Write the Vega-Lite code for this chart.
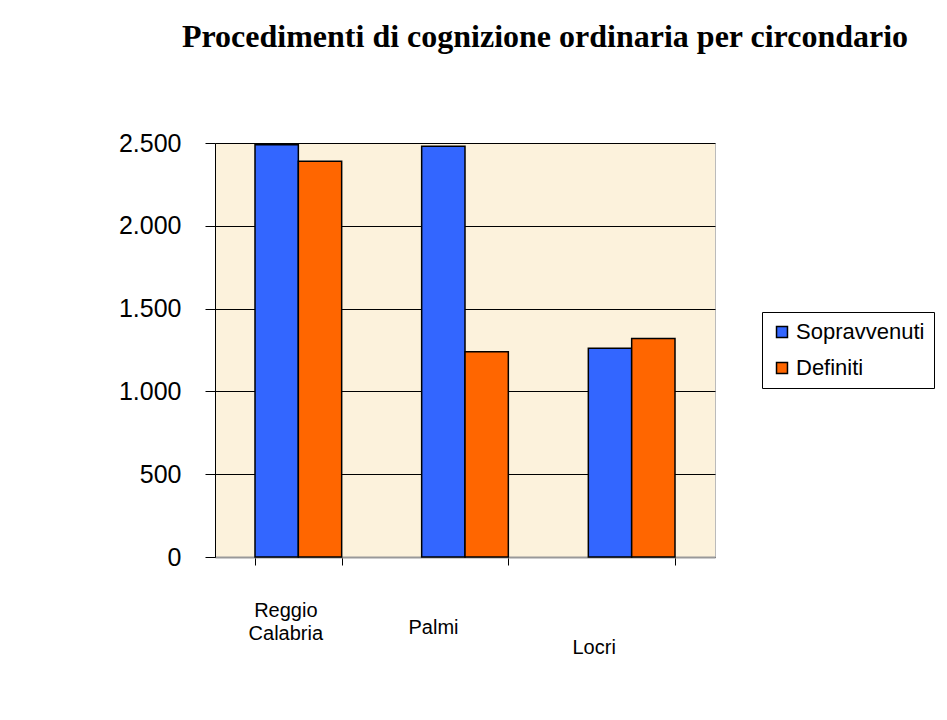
{
  "$schema": "https://vega.github.io/schema/vega-lite/v6.json",
  "width": 500,
  "height": 414,
  "autosize": {"type": "none"},
  "padding": {"left": 215, "top": 143, "right": 232, "bottom": 163},
  "background": "white",
  "title": {
    "text": "Procedimenti di cognizione ordinaria per circondario",
    "font": "Liberation Serif",
    "fontSize": 32,
    "fontWeight": "bold",
    "color": "black",
    "anchor": "middle",
    "dx": 80,
    "offset": 77
  },
  "data": {
    "values": [
      {"Circondario": "Reggio Calabria", "Serie": "Sopravvenuti", "Valore": 2490},
      {"Circondario": "Reggio Calabria", "Serie": "Definiti", "Valore": 2390},
      {"Circondario": "Palmi", "Serie": "Sopravvenuti", "Valore": 2480},
      {"Circondario": "Palmi", "Serie": "Definiti", "Valore": 1240},
      {"Circondario": "Locri", "Serie": "Sopravvenuti", "Valore": 1260},
      {"Circondario": "Locri", "Serie": "Definiti", "Valore": 1320}
    ]
  },
  "mark": {"type": "bar", "stroke": "black", "strokeWidth": 1.5},
  "encoding": {
    "x": {
      "field": "Circondario",
      "type": "nominal",
      "sort": ["Reggio Calabria", "Palmi", "Locri"],
      "scale": {"paddingInner": 0.48, "paddingOuter": 0.24},
      "axis": {
        "title": null,
        "labelAngle": 0,
        "labelFont": "Liberation Sans",
        "labelFontSize": 20,
        "labelColor": "black",
        "labelPadding": {"condition": [
          {"test": "datum.value == 'Palmi'", "value": 52},
          {"test": "datum.value == 'Locri'", "value": 72}
        ], "value": 35},
        "labelOffset": {"condition": [
          {"test": "datum.value == 'Palmi'", "value": -32},
          {"test": "datum.value == 'Locri'", "value": -38}
        ], "value": -13},
        "labelLineHeight": 23,
        "labelExpr": "datum.label == 'Reggio Calabria' ? ['Reggio', 'Calabria'] : datum.label",
        "domainColor": "#999999",
        "domainWidth": 2,
        "tickColor": "black",
        "tickBand": "extent",
        "tickSize": 8,
        "grid": false
      }
    },
    "xOffset": {
      "field": "Serie",
      "type": "nominal",
      "sort": ["Sopravvenuti", "Definiti"]
    },
    "y": {
      "field": "Valore",
      "type": "quantitative",
      "scale": {"domain": [0, 2500]},
      "axis": {
        "title": null,
        "values": [0, 500, 1000, 1500, 2000, 2500],
        "labelExpr": "replace(format(datum.value, ','), ',', '.')",
        "labelFont": "Liberation Sans",
        "labelFontSize": 25,
        "labelColor": "black",
        "labelPadding": 24,
        "tickColor": "black",
        "tickSize": 10,
        "domainColor": "black",
        "grid": true,
        "gridColor": "black",
        "gridWidth": 1.2
      }
    },
    "color": {
      "field": "Serie",
      "type": "nominal",
      "sort": ["Sopravvenuti", "Definiti"],
      "scale": {"domain": ["Sopravvenuti", "Definiti"], "range": ["#3366FF", "#FF6600"]},
      "legend": {
        "title": null,
        "orient": "none",
        "legendX": 547,
        "legendY": 169,
        "strokeColor": "black",
        "fillColor": "white",
        "padding": 9,
        "symbolType": "square",
        "symbolSize": 120,
        "symbolStrokeColor": "black",
        "symbolStrokeWidth": 1.5,
        "labelFont": "Liberation Sans",
        "labelFontSize": 22,
        "labelColor": "black",
        "rowPadding": 14,
        "labelOffset": 3
      }
    }
  },
  "config": {
    "view": {"fill": "#FCF2DC", "stroke": "#BBBBBB"}
  }
}
